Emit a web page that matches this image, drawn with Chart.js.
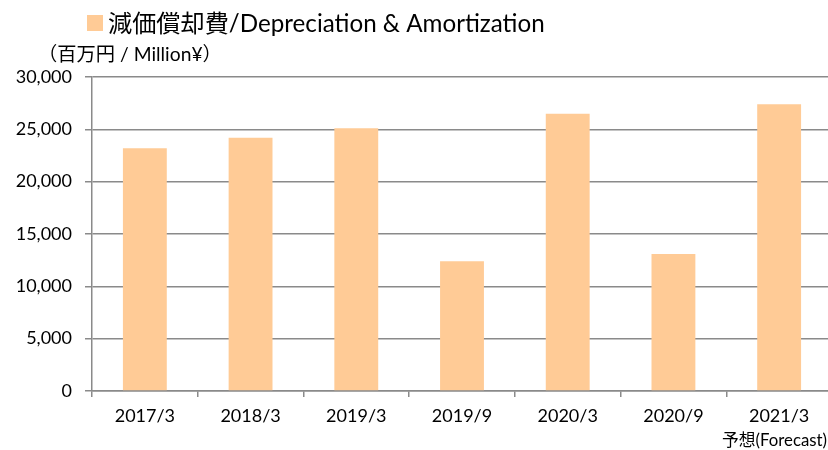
<!DOCTYPE html>
<html>
<head>
<meta charset="utf-8">
<script src="https://cdn.jsdelivr.net/npm/chart.js@4/dist/chart.umd.min.js"></script>
<style>
html,body{margin:0;padding:0;background:#fff;}
#wrap{width:828px;height:450px;}
</style>
</head>
<body>
<div id="wrap"><canvas id="c" width="828" height="450"></canvas></div>
<script>
const categories = ["2017/3","2018/3","2019/3","2019/9","2020/3","2020/9","2021/3"];
const depreciation = [23200, 24200, 25100, 12400, 26500, 13100, 27400];
const yTicks = [0, 5000, 10000, 15000, 20000, 25000, 30000];
const seriesName = "減価償却費/Depreciation & Amortization";
const unitLabel = "（百万円 / Million¥）";
const forecastNote = "予想(Forecast)";

const FONT = "Lato, 'Noto Sans CJK JP', sans-serif";
const BAR = "#FFCB96";
const GRID = "#8a8a8a";

function fitFont(ctx, text, target, base) {
  ctx.font = base + "px " + FONT;
  const w = ctx.measureText(text).width;
  return base * target / w;
}

const textPlugin = {
  id: 'texts',
  afterLayout(chart) {
    const xs = chart.scales.x;
    xs.right = xs.left + 740;
    xs.width = 740;
    xs.configure();
  },
  afterDraw(chart) {
    const ctx = chart.ctx;
    ctx.save();
    ctx.fillStyle = "#000";
    ctx.textBaseline = "alphabetic";
    ctx.textAlign = "left";
    ctx.fillStyle = BAR;
    ctx.fillRect(87, 15, 16, 16);
    ctx.fillStyle = "#000";
    let s = fitFont(ctx, seriesName, 437, 24);
    ctx.font = s + "px " + FONT;
    ctx.fillText(seriesName, 108, 32);
    s = fitFont(ctx, unitLabel, 184, 17);
    ctx.font = s + "px " + FONT;
    ctx.fillText(unitLabel, 38, 61);
    s = fitFont(ctx, forecastNote, 105, 15);
    ctx.font = s + "px " + FONT;
    ctx.textAlign = "right";
    ctx.fillText(forecastNote, 827, 446);
    ctx.restore();
  }
};

new Chart(document.getElementById('c'), {
  type: 'bar',
  data: {
    labels: categories,
    datasets: [{
      label: seriesName,
      data: depreciation,
      backgroundColor: BAR,
      borderWidth: 0,
      barPercentage: 0.415,
      categoryPercentage: 1.0
    }]
  },
  options: {
    responsive: false,
    animation: false,
    devicePixelRatio: 1,
    layout: { padding: { top: 77, left: 0, right: 0, bottom: 0 } },
    plugins: { legend: { display: false }, tooltip: { enabled: false }, title: { display: false } },
    scales: {
      x: {
        grid: { display: true, drawOnChartArea: false, drawTicks: true, tickLength: 6, color: GRID, lineWidth: 1.5, offset: true },
        border: { display: true, color: GRID, width: 1.5 },
        ticks: { color: "#000", font: { family: FONT, size: 18 }, padding: 8, maxRotation: 0, autoSkip: false },
        afterFit(scale) { scale.height = 59; }
      },
      y: {
        min: 0, max: 30000,
        afterBuildTicks(scale) { scale.ticks = yTicks.map(v => ({ value: v })); },
        grid: { color: GRID, lineWidth: 1.5, tickLength: 7, drawTicks: true },
        border: { display: true, color: GRID, width: 1.5 },
        ticks: {
          color: "#000", font: { family: FONT, size: 18 }, padding: 13,
          callback: v => v.toLocaleString('en-US')
        },
        afterFit(scale) { scale.width = 92; }
      }
    }
  },
  plugins: [textPlugin]
});
</script>
</body>
</html>
